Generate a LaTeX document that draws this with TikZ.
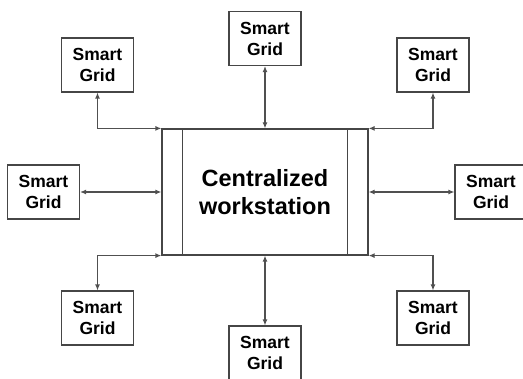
\documentclass[tikz,border=0pt]{standalone}
\usepackage{fontspec}
\setmainfont{Liberation Sans}
\usetikzlibrary{arrows.meta,calc}
\definecolor{edgegray}{RGB}{70,70,70}
\definecolor{linegray}{RGB}{80,80,80}
\tikzset{
  grid/.style={draw=edgegray, line width=1.1pt, fill=white, minimum width=72pt,
    minimum height=54pt, inner sep=0pt, align=center,
    font=\fontsize{17.5}{21}\selectfont\bfseries},
  hub/.style={draw=edgegray, line width=1.2pt, minimum width=206pt, minimum height=126pt,
    inner sep=0pt, align=center, font=\fontsize{23.5}{28}\selectfont\bfseries},
  link/.style={draw=linegray, line width=1.2pt,
    {Latex[length=6pt,width=5pt]}-{Latex[length=6pt,width=5pt]}}
}
\begin{document}
\begin{tikzpicture}[x=1pt,y=-1pt]
\useasboundingbox (0,0) rectangle (523,379);
% central workstation with its two side bars
\node[hub] (c) at (265,192) {Centralized\\workstation};
\draw[edgegray, line width=1.1pt] ($(c.north west)+(21,0)$) -- ($(c.south west)+(21,0)$);
\draw[edgegray, line width=1.1pt] ($(c.north east)+(-21,0)$) -- ($(c.south east)+(-21,0)$);
% grids around it
\node[grid] (tl) at (97.5,65) {Smart\\Grid};
\node[grid] (tc) at (265,38.5) {Smart\\Grid};
\node[grid] (tr) at (433,65) {Smart\\Grid};
\node[grid] (ml) at (43.5,192) {Smart\\Grid};
\node[grid] (mr) at (491,192) {Smart\\Grid};
\node[grid] (bl) at (97.5,318) {Smart\\Grid};
\node[grid] (bc) at (265,353) {Smart\\Grid};
\node[grid] (br) at (433,318) {Smart\\Grid};
% two-way links
\draw[link] (tl.south) |- (c.north west);
\draw[link] (tc.south) -- (c.north);
\draw[link] (tr.south) |- (c.north east);
\draw[link] (ml.east) -- (ml.east -| c.west);
\draw[link] (mr.west) -- (mr.west -| c.east);
\draw[link] (bl.north) |- (c.south west);
\draw[link] (bc.north) -- (c.south);
\draw[link] (br.north) |- (c.south east);
\end{tikzpicture}
\end{document}
